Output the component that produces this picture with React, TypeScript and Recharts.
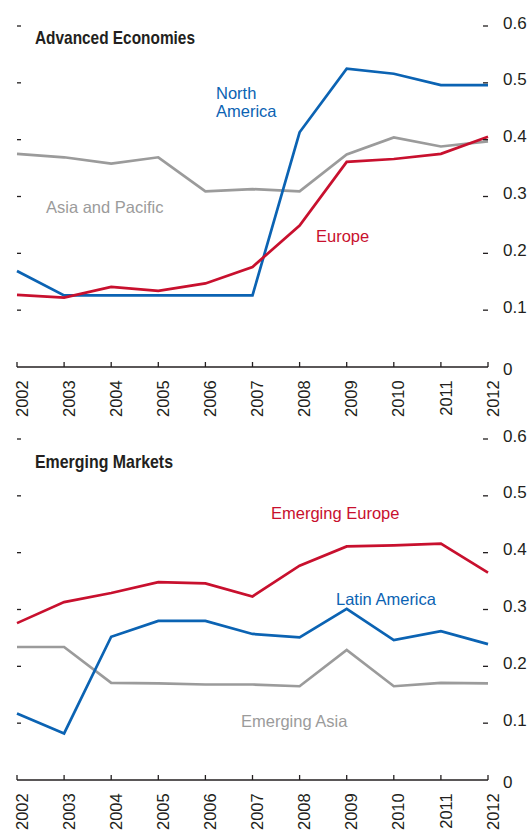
import React from "react";
import { LineChart, Line, XAxis, YAxis } from "recharts";

const years = ["2002", "2003", "2004", "2005", "2006", "2007", "2008", "2009", "2010", "2011", "2012"];
const yTicks = [0, 0.1, 0.2, 0.3, 0.4, 0.5, 0.6];

// Advanced economies
const northAmerica = [0.169, 0.126, 0.126, 0.126, 0.126, 0.126, 0.413, 0.525, 0.516, 0.496, 0.496];
const europe = [0.127, 0.122, 0.141, 0.134, 0.147, 0.176, 0.249, 0.361, 0.366, 0.375, 0.405];
const asiaPacific = [0.375, 0.369, 0.358, 0.369, 0.309, 0.313, 0.309, 0.374, 0.404, 0.388, 0.397];

// Emerging markets
const emergingEurope = [0.276, 0.313, 0.329, 0.348, 0.346, 0.323, 0.377, 0.411, 0.413, 0.416, 0.365];
const latinAmerica = [0.117, 0.082, 0.252, 0.28, 0.28, 0.257, 0.251, 0.301, 0.246, 0.262, 0.239];
const emergingAsia = [0.234, 0.234, 0.171, 0.17, 0.168, 0.168, 0.165, 0.229, 0.165, 0.171, 0.17];

const BLUE = "#0b63b3";
const RED = "#c8102e";
const GRAY = "#9b9b9b";
const INK = "#231f20";
const FONT = "'Liberation Sans', Arial, sans-serif";

const W = 529;
const LEFT = 17;
const RIGHT_AXIS = 41;
const PLOT_W = W - LEFT - RIGHT_AXIS;

const advancedData = years.map((year, i) => ({
  year,
  a: asiaPacific[i],
  b: northAmerica[i],
  c: europe[i],
}));

const emergingData = years.map((year, i) => ({
  year,
  a: emergingAsia[i],
  b: latinAmerica[i],
  c: emergingEurope[i],
}));

// right axis tick: inward dash on both plot edges + label on the right
const RightTick = ({ x, y, payload }: any) => {
  const v = payload.value;
  return (
    <g>
      {v !== 0 && <line x1={x - 5} x2={x} y1={y} y2={y} stroke={INK} strokeWidth={1.3} />}
      {v !== 0 && <line x1={x - PLOT_W} x2={x - PLOT_W + 4} y1={y} y2={y} stroke={INK} strokeWidth={1.3} />}
      <text x={x + 15} y={y + (v === 0 ? 7.5 : 2.5)} textAnchor="start" fontSize={17} fontFamily={FONT} fill={INK}>
        {v === 0 ? "0" : v.toFixed(1)}
      </text>
    </g>
  );
};

const YearTick = ({ x, y, payload }: any) => (
  <g>
    <line x1={x} x2={x} y1={y - 5} y2={y} stroke={INK} strokeWidth={1.3} />
    <text
      transform={`translate(${x},${y + 13.3}) rotate(-90)`}
      y={10.6}
      textAnchor="end"
      fontSize={16.5}
      fontFamily={FONT}
      fill={INK}
    >
      {payload.value}
    </text>
  </g>
);

function Panel({ data }: { data: any[] }) {
  return (
    <LineChart width={W} height={421} data={data} margin={{ top: 26, right: 0, bottom: 6, left: LEFT }}>
      <XAxis
        dataKey="year"
        height={48}
        interval={0}
        tickSize={0}
        tickMargin={0}
        tickLine={false}
        axisLine={{ stroke: INK, strokeWidth: 1.3 }}
        tick={<YearTick />}
      />
      <YAxis
        yAxisId="r"
        orientation="right"
        width={RIGHT_AXIS}
        domain={[0, 0.6]}
        ticks={yTicks}
        interval={0}
        tickSize={0}
        tickMargin={0}
        tickLine={false}
        axisLine={false}
        tick={<RightTick />}
      />
      <Line yAxisId="r" dataKey="a" stroke={GRAY} strokeWidth={2.7} dot={false} isAnimationActive={false} />
      <Line yAxisId="r" dataKey="b" stroke={BLUE} strokeWidth={2.7} dot={false} isAnimationActive={false} />
      <Line yAxisId="r" dataKey="c" stroke={RED} strokeWidth={2.7} dot={false} isAnimationActive={false} />
    </LineChart>
  );
}

export default function App() {
  const label = { fontFamily: FONT, fontSize: 16.5 };
  const title = { fontFamily: FONT, fontSize: 18.5, fontWeight: 700, fill: INK, lengthAdjust: "spacingAndGlyphs" as const };
  return (
    <div style={{ position: "absolute", left: 0, top: 0, width: W, height: 830, overflow: "hidden", background: "#fff" }}>
      <div style={{ position: "absolute", left: 0, top: 0 }}>
        <Panel data={advancedData} />
      </div>
      <div style={{ position: "absolute", left: 0, top: 413 }}>
        <Panel data={emergingData} />
      </div>
      <svg width={W} height={830} style={{ position: "absolute", left: 0, top: 0, pointerEvents: "none" }}>
        <text x={35} y={44} textLength={160} {...title}>Advanced Economies</text>
        <text x={216} y={98.6} fill={BLUE} {...label}>North</text>
        <text x={216} y={116.5} fill={BLUE} {...label}>America</text>
        <text x={46} y={212.7} fill={GRAY} {...label}>Asia and Pacific</text>
        <text x={316} y={242} fill={RED} {...label}>Europe</text>

        <text x={35} y={467.7} textLength={138} {...title}>Emerging Markets</text>
        <text x={271} y={518.6} fill={RED} {...label}>Emerging Europe</text>
        <text x={336} y={604.6} fill={BLUE} {...label}>Latin America</text>
        <text x={241} y={726.8} fill={GRAY} {...label}>Emerging Asia</text>
      </svg>
    </div>
  );
}
